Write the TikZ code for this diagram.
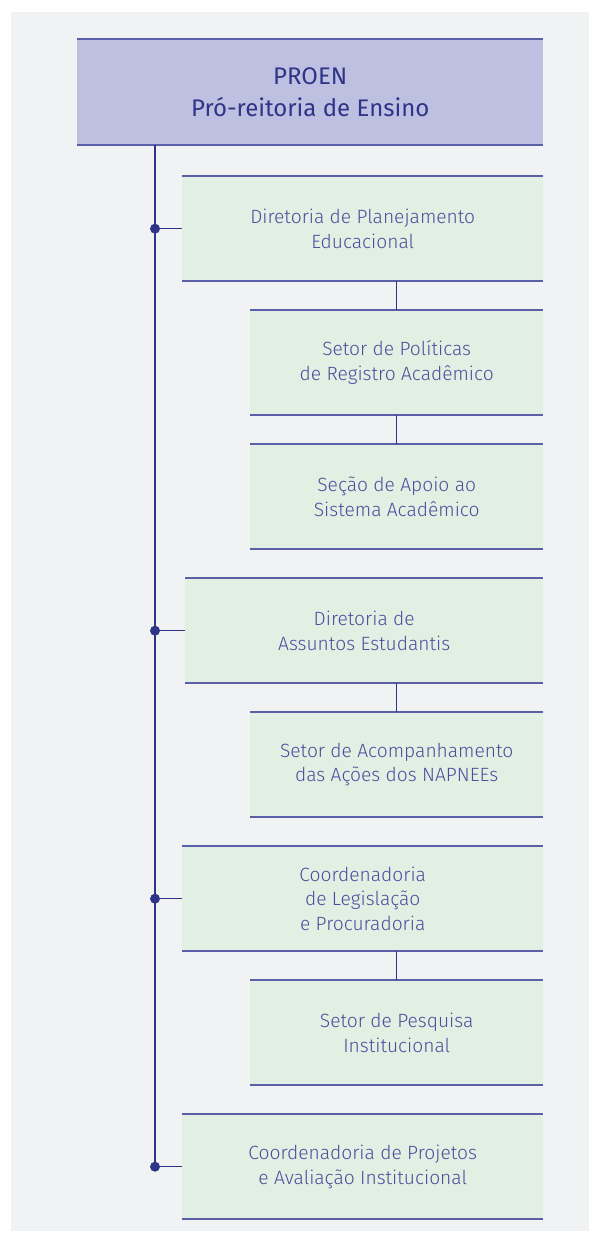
\documentclass[tikz,border=0pt]{standalone}
\usepackage{fontspec}
\setmainfont{Fira Sans Light}[BoldFont=Fira Sans]
\definecolor{bgc}{HTML}{F1F2F4}
\definecolor{lav}{HTML}{BDC0E0}
\definecolor{grn}{HTML}{E2F0E3}
\definecolor{navy}{HTML}{2E3487}
\definecolor{edgec}{HTML}{5B5FA8}
\definecolor{txt}{HTML}{484E9E}
\tikzset{
  gbox/.style={fill=grn, draw=none, inner sep=0pt, anchor=north west, minimum height=105, align=center, text=txt, font=\fontsize{19.2}{24.5}\selectfont},
  tbox/.style={fill=lav, draw=none, inner sep=0pt, anchor=north west, minimum height=106, minimum width=466, align=center, text=navy, font=\fontsize{24}{32}\selectfont\bfseries},
  rule/.style={draw=edgec, line width=2pt},
  conn/.style={draw=navy, line width=1.5pt},
  dot/.style={circle, fill=navy, inner sep=0pt, minimum size=10}
}
\begin{document}
\begin{tikzpicture}[x=1pt,y=-1pt]
\useasboundingbox (0,0) rectangle (589,1240);
\fill[bgc] (11,12) rectangle (589,1231);
% title
\node[tbox] (t) at (77,39) {PROEN\\Pró-reitoria de Ensino};
% boxes
\node[gbox, minimum width=361] (d1) at (182,176) {Diretoria de Planejamento\\Educacional};
\node[gbox, minimum width=293] (s1) at (250,310) {Setor de Políticas\\de Registro Acadêmico};
\node[gbox, minimum width=293] (s2) at (250,444) {Seção de Apoio ao\\Sistema Acadêmico};
\node[gbox, minimum width=358] (d2) at (185,578) {Diretoria de\\Assuntos Estudantis};
\node[gbox, minimum width=293] (s3) at (250,712) {Setor de Acompanhamento\\das Ações dos NAPNEEs};
\node[gbox, minimum width=361] (d3) at (182,846) {Coordenadoria\\de Legislação\\e Procuradoria};
\node[gbox, minimum width=293] (s4) at (250,980) {Setor de Pesquisa\\Institucional};
\node[gbox, minimum width=361] (d4) at (182,1114) {Coordenadoria de Projetos\\e Avaliação Institucional};
% top/bottom rules
\foreach \n in {t,d1,s1,s2,d2,s3,d3,s4,d4}{
  \draw[rule] (\n.north west) -- (\n.north east);
  \draw[rule] (\n.south west) -- (\n.south east);
}
% trunk
\coordinate (tr) at (155,0);
\node[dot] (p1) at (tr |- d1.west) {};
\node[dot] (p2) at (tr |- d2.west) {};
\node[dot] (p3) at (tr |- d3.west) {};
\node[dot] (p4) at (tr |- d4.west) {};
\draw[conn] (tr |- t.south) -- (p4.center);
\draw[conn] (p1.center) -- (d1.west);
\draw[conn] (p2.center) -- (d2.west);
\draw[conn] (p3.center) -- (d3.west);
\draw[conn] (p4.center) -- (d4.west);
% sub connectors
\draw[conn] (s1.north) -- (s1.north |- d1.south);
\draw[conn] (s2.north) -- (s1.south);
\draw[conn] (s3.north) -- (s3.north |- d2.south);
\draw[conn] (s4.north) -- (s4.north |- d3.south);
\end{tikzpicture}
\end{document}
